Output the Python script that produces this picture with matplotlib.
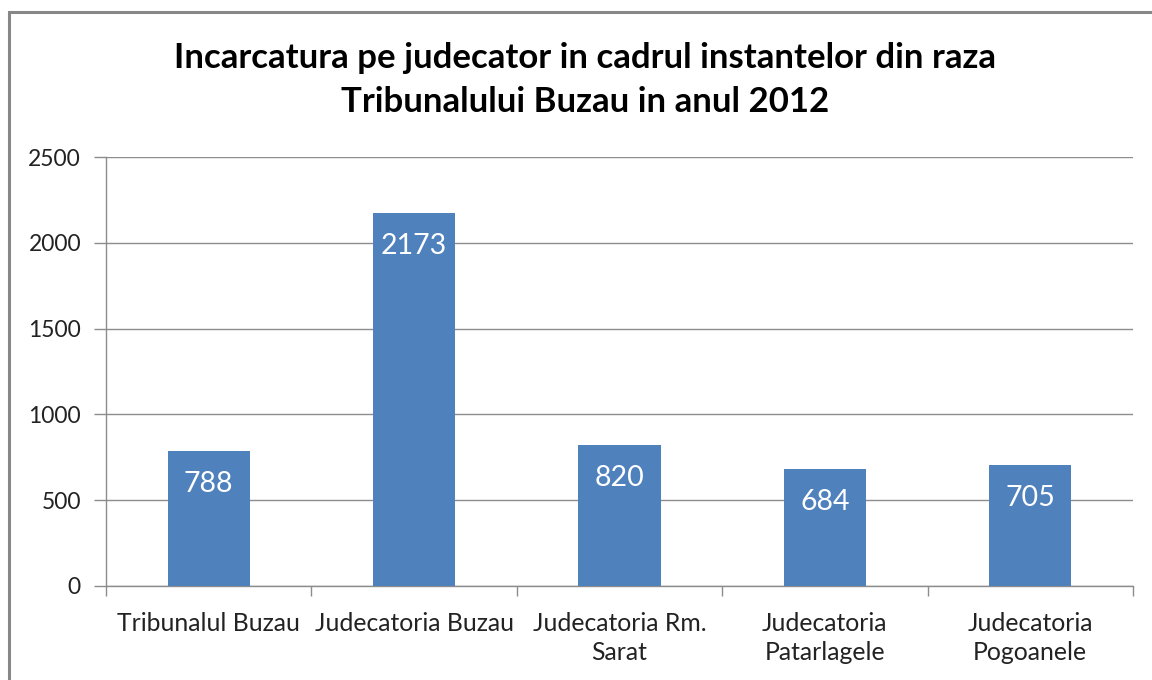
import matplotlib
matplotlib.use("Agg")
import matplotlib.pyplot as plt
from matplotlib.patches import Rectangle

categories = ["Tribunalul Buzau", "Judecatoria Buzau", "Judecatoria Rm.\nSarat",
              "Judecatoria\nPatarlagele", "Judecatoria\nPogoanele"]
values = [788, 2173, 820, 684, 705]
yticks = [0, 500, 1000, 1500, 2000, 2500]
title = "Incarcatura pe judecator in cadrul instantelor din raza\nTribunalului Buzau in anul 2012"

plt.rcParams['font.family'] = ['Lato', 'DejaVu Sans']

W, H = 1152, 680
fig = plt.figure(figsize=(W/100, H/100), dpi=100)
fig.patch.set_facecolor('white')

# outer chart border
fig.patches.append(Rectangle((9/W, -0.1), 1.2, (H-12)/H + 0.1, transform=fig.transFigure,
                             fill=False, edgecolor='#878787', linewidth=2.2))

ax = fig.add_axes([106/W, (H-586)/H, (1133-106)/W, (586-157)/H])
x = list(range(len(categories)))
bars = ax.bar(x, values, width=0.40, color='#4F81BD', zorder=3)

ax.set_xlim(-0.5, len(categories)-0.5)
ax.set_ylim(0, 2500)
ax.set_yticks(yticks)
ax.set_yticklabels([str(t) for t in yticks], fontsize=16.5, color='#222222')
ax.yaxis.grid(True, color='#8c8c8c', linewidth=1.0, zorder=0)
ax.tick_params(axis='y', length=9, color='#8c8c8c', width=1.0, pad=9)

ax.set_xticks(x)
ax.set_xticklabels(categories, fontsize=17.8, color='#222222', linespacing=1.32)
ax.tick_params(axis='x', which='major', length=0, pad=19)
ax.set_xticks([i - 0.5 for i in range(len(categories)+1)], minor=True)
ax.tick_params(axis='x', which='minor', length=7, color='#8c8c8c', width=1.0)

for s in ['top', 'right']:
    ax.spines[s].set_visible(False)
for s in ['left', 'bottom']:
    ax.spines[s].set_color('#8c8c8c')
    ax.spines[s].set_linewidth(1.0)

for xi, v in zip(x, values):
    ax.annotate(str(v), (xi, v), xytext=(0, -20), textcoords='offset pixels',
                ha='center', va='top', color='white', fontsize=20.5, zorder=4)

fig.text(585/W, (H-80)/H, title, ha='center', va='center', fontsize=25,
         fontweight='bold', linespacing=1.45, color='black')

fig.savefig('out.png', dpi=100, facecolor='white')
